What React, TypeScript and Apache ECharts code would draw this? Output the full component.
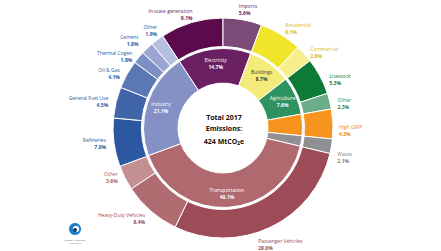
import React, { useEffect, useRef } from "react";
import * as echarts from "echarts";

const innerNames = ["Electricity", "Buildings", "Agriculture", "High GWP", "Waste", "Transportation", "Industry"];
const innerValues = [14.7, 8.7, 7.6, 4.3, 2.1, 40.1, 21.1];

const outerNames = [
  "In-state generation", "Imports", "Residential", "Commercial", "Livestock", "Other",
  "High GWP", "Waste", "Passenger Vehicles", "Heavy-Duty Vehicles", "Other", "Refineries",
  "General Fuel Use", "Oil & Gas", "Thermal Cogen", "Cement", "Other",
];
const outerValues = [9.1, 5.6, 6.1, 2.6, 5.3, 2.3, 4.3, 2.1, 28.0, 8.4, 3.6, 7.0, 4.5, 4.1, 1.8, 1.8, 1.9];

const centerLines = ["Total 2017", "Emissions:", "424 MtCO₂e"];

const innerColors = ["#6a1f62", "#f4ec7a", "#2f9261", "#f7941d", "#8e9093", "#b06a6f", "#8591c5"];
const innerLabelColors = ["#fff", "#3a3a3a", "#fff", "", "", "#fff", "#fff"];
const outerColors = [
  "#5b0b4d", "#7b4a77", "#f1e52b", "#f6ef8c", "#0d7a37", "#6cae89",
  "#f7941d", "#8e9093", "#9d4b56", "#b06d71", "#c48f90", "#2b58a0",
  "#4165a9", "#5b78b5", "#7d90c3", "#9aa6d1", "#b7bfe1",
];
const outerLabelColors = [
  "#6b1d5f", "#6b1d5f", "#d2bb14", "#d6b82a", "#0f7b3c", "#2e8a55",
  "#f08a0c", "#7d7f82", "#9b4a55", "#9b4a55", "#a35c62", "#2b5aa0",
  "#2b5aa0", "#2b5aa0", "#2b5aa0", "#2b5aa0", "#2b5aa0",
];
// label nudges (layout only) for outer ring labels: [dx, dy]
const outerLabelNudge: [number, number][] = [
  [4, -1], [-6, -3], [0, 0], [0, 4], [2, 7], [0, 4],
  [-2, 7], [-2, 10], [-16, 11], [0, 2], [0, -4], [0, 0],
  [0, 1], [0, 2], [0, 4], [-3, -3], [5, -4],
];

export default function App() {
  const ref = useRef<HTMLDivElement>(null);
  useEffect(() => {
    if (!ref.current) return;
    const chart = echarts.init(ref.current, null, { renderer: "svg" });
    const outerSum = outerValues.reduce((a, b) => a + b, 0);
    const startAngle = 90 + (outerValues[0] / outerSum) * 360;
    const font = "Open Sans";
    chart.setOption({
      animation: false,
      backgroundColor: "#fff",
      series: [
        {
          type: "pie",
          center: [223, 128],
          radius: [45, 79.5],
          startAngle,
          clockwise: true,
          avoidLabelOverlap: false,
          itemStyle: { borderColor: "#fff", borderWidth: 1 },
          label: {
            show: true,
            position: "inside",
            fontFamily: font,
            fontSize: 5,
            lineHeight: 7,
            formatter: (p: any) => `{n|${p.name}}\n{v|${p.value.toFixed(1)}%}`,
            rich: {
              n: { fontSize: 5, fontFamily: font, lineHeight: 7 },
              v: { fontSize: 5, fontFamily: font, fontWeight: "bold", lineHeight: 7 },
            },
          },
          labelLine: { show: false },
          data: innerNames.map((n, i) => ({
            name: n,
            value: innerValues[i],
            itemStyle: { color: innerColors[i] },
            label: innerLabelColors[i]
              ? { color: innerLabelColors[i] }
              : { show: false },
          })),
        },
        {
          type: "pie",
          center: [223, 128],
          radius: [81.5, 110],
          startAngle,
          clockwise: true,
          avoidLabelOverlap: false,
          labelLayout: (p: any) => {
            const d = outerLabelNudge[p.dataIndex] || [0, 0];
            return { dx: d[0], dy: d[1], hideOverlap: false };
          },
          minShowLabelAngle: 0,
          itemStyle: { borderColor: "#fff", borderWidth: 1 },
          label: {
            show: true,
            position: "outside",
            fontFamily: font,
            fontSize: 5,
            lineHeight: 7,
            distanceToLabelLine: 1,
            formatter: (p: any) => `{n|${p.name}}\n{v|${p.value.toFixed(1)}%}`,
            rich: {
              n: { fontSize: 5, fontFamily: font, lineHeight: 7 },
              v: { fontSize: 5, fontFamily: font, fontWeight: "bold", lineHeight: 7 },
            },
          },
          labelLine: { show: false, length: 7, length2: 0 },
          data: outerNames.map((n, i) => ({
            name: n,
            value: outerValues[i],
            itemStyle: { color: outerColors[i] },
            label: { color: outerLabelColors[i] },
          })),
        },
      ],
      graphic: [
        ...centerLines.map((t, i) => ({
          type: "text",
          x: 224,
          y: 117 + i * 11.5 + (i === 2 ? 1 : 0),
          style: {
            text: t,
            fill: "#111",
            font: `bold 7px '${font}'`,
            textAlign: "center",
            textVerticalAlign: "middle",
          },
        })),
        { type: "circle", shape: { cx: 75, cy: 229, r: 6 }, style: { fill: "#1b7cc8" } },
        { type: "circle", shape: { cx: 76, cy: 229, r: 3.3 }, style: { fill: "#ffffff" } },
        { type: "circle", shape: { cx: 75, cy: 230, r: 2 }, style: { fill: "#0d3a6e" } },
        {
          type: "text",
          x: 75,
          y: 238,
          style: { text: "ENERGY FUTURES", fill: "#666", font: `2.5px '${font}'`, textAlign: "center" },
        },
        {
          type: "text",
          x: 75,
          y: 241,
          style: { text: "INITIATIVE", fill: "#666", font: `2.5px '${font}'`, textAlign: "center" },
        },
      ],
    });
    return () => chart.dispose();
  }, []);
  return (
    <div
      ref={ref}
      style={{ position: "fixed", left: 0, top: 0, width: 441, height: 251 }}
    />
  );
}
